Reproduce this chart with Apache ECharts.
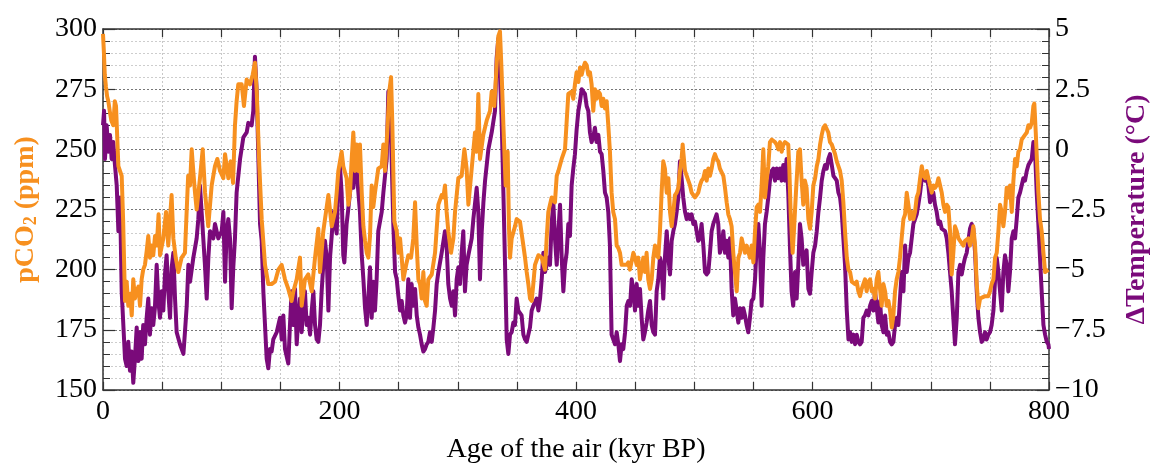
<!DOCTYPE html>
<html>
<head>
<meta charset="utf-8">
<script src="https://cdn.jsdelivr.net/npm/echarts@6/dist/echarts.min.js"></script>
<style>
html,body{margin:0;padding:0;background:#fff;}
#chart{width:1152px;height:463px;}
</style>
</head>
<body>
<div id="chart"></div>
<script>
// ---- Data ----
const co2Age = [0,0.8,1.5,2.5,3.5,4.5,6,7,8.7,10,11,13,15.8,17,18.6,20,21.4,23,24.3,25.6,27,28.5,30,31.3,32.7,34,35.5,37,38.3,39.7,41,42.5,44,45.5,47,48.2,51,53.3,55.2,56.5,58,59.5,61.5,63.7,66.5,69.3,72,73.6,75,76.5,77.8,79.2,82,84.3,86.3,89,91.9,94.7,96.7,99,101.8,103.2,106,108,108.8,110,111.6,113,114.4,117.3,119.2,121.5,124.3,126.6,128.5,130,132.2,134.2,137,139.8,142.6,145.5,148.3,151.1,153.9,156.7,159.5,161,163.8,166.6,168,170.8,173.6,176.5,179.3,182.1,183.5,186.3,190.6,193.4,196.2,197.6,199,201.8,203.2,206,207.5,208.9,210.3,211.7,213.1,214.5,215.9,217.3,218.8,220.2,221.6,223,224.4,225.8,227.2,228.6,230,232.8,235.7,237.1,238.5,240.7,242.1,243.6,244.7,246.4,248.4,249.8,251.2,252.6,254,255.4,256.8,258.2,260.5,262.4,263.9,265.3,266.7,268.1,269.5,270.9,272.3,273.7,275.1,278,280.8,283.6,286.4,287.8,289.2,290.6,292,294.3,296.3,297.7,300.5,303.3,305.6,307.5,309,310.4,311.8,314.6,316,317.4,318.8,321.6,324.5,327.3,328.7,330.9,332.9,334.3,335.7,337.1,338.6,340.5,342.2,343.3,344.2,345.6,348.4,349.8,352.6,355.5,356.9,358.3,359.7,361.1,362.5,363.9,365.3,368.2,371,373.8,375.2,376.6,379.4,382.2,383.7,385.1,387.9,390.7,393.5,396.3,397.7,399.1,400.5,402,403.4,404.8,406.2,407.6,409,410.4,411.8,413.2,414.6,416,417.4,418.9,420.3,421.7,423.1,424.5,425.9,427.3,428.7,430.1,431.5,433,434.4,435.8,437.2,438.6,440,442.8,444.2,445.6,448.5,449.9,451.3,452.7,454.1,455.5,456.9,458.3,459.7,461.1,462.6,464,465.4,466.8,468.2,469.6,471,472.4,473.8,475.2,476.7,478.1,479.5,480.9,482.3,483.7,485.1,486.5,487.9,489.3,490.2,490.7,492.2,493.6,495,496.4,497.8,499.2,500.6,502,503.4,504.8,506.2,507.7,509.1,510.5,511.9,513.3,514.7,516.1,517.5,518.9,520.3,521.7,523.2,524.6,526,527.4,528.8,530.2,531.6,533,534.4,535.9,537.3,538.7,540.1,541.5,542.9,544.3,545.7,547.1,548.5,550,551.4,552.8,554.2,555.6,557,558.4,559.8,561.2,562.6,564,565.5,566.9,568.3,569.7,571.1,572.5,573.9,575.3,576.7,578.1,579.5,580.4,581.5,583.2,584.3,586,588,589.4,590.8,592.2,593.6,595,596.5,597.9,599.3,600.7,602.2,603.6,605,606.4,607.8,609.2,610.6,612,613.4,614.8,616.3,617.7,619.1,620.5,621.9,623.3,624.7,626.1,627.5,629,630.4,631.8,633.2,634.6,636,637.4,638.8,640.2,641.6,643,644.4,645.8,647.3,648.7,650.1,651.5,652.9,654.3,655.7,657.1,658.5,660,661.4,662.8,664.2,665.6,667,668.4,669.8,671.2,672.6,674,675.4,676.9,678.3,679.7,681.1,682.5,683.9,685.3,686.7,688.1,689.5,691,692.4,693.8,695.2,696.6,698,699.4,700.8,702.2,703.6,705,706.5,707.9,709.3,710.7,712.1,713.5,714.9,716.3,717.7,719.1,720.5,722,723.4,724.8,726.2,727.6,729,730.4,731.8,733.2,734.6,736,737.5,738.9,740.3,741.7,743.1,745.9,747.3,748.7,750.1,751.5,753,754.4,755.8,757.2,758.6,760,761.4,762.8,764.2,765.6,767,768.5,769.9,771.3,772.7,774.1,775.5,776.9,778.3,779.7,781.2,782.6,784,785.4,786.8,787.6,788.8,790.2,791,792.4,793.8,795.3,796.7,798.1,799.5,800];
const co2Ppm = [298,290,281,276,272,270,265,262,260,270,268,243,239,221,187,195,185,190,181,196,188,191,193,185,196,200,202,208,214,205,210,206,214,210,223,206,213,224,210,220,231,213,205,199,205,207,239,235,250,240,232,225,238,250,232,218,235,243,246,241,238,248,238,245,242,236,260,270,277,277,268,279,277,281,286,274,243,221,202,194,194,195,200,202,196,192,187,191,196,205,185,196,198,191,205,217,199,216,231,218,224,232,241,249,243,238,227,232,246,257,241,252,241,252,232,218,212,207,205,214,235,226,232,242,243,252,241,260,274,280,260,220,216,207,213,205,196,196,203,206,205,213,228,210,196,194,188,199,187,185,196,198,207,227,231,230,235,224,216,207,213,224,238,239,250,242,227,227,242,257,249,273,246,256,262,266,274,268,285,297,299,282,260,235,249,218,205,213,218,221,220,210,205,199,194,188,187,194,202,206,205,200,213,224,230,228,239,241,246,250,273,274,271,277,282,278,284,281,284,286,285,281,282,277,266,275,271,274,273,268,271,267,270,260,249,232,224,221,210,209,207,202,202,202,203,200,207,205,202,205,196,196,205,199,207,196,192,196,205,210,206,205,216,232,245,242,232,238,224,218,224,231,232,234,241,246,252,249,241,241,237,235,232,231,230,231,232,235,237,238,241,237,242,239,242,246,248,246,245,242,242,239,234,228,223,221,218,207,199,191,205,207,213,210,207,210,210,205,210,203,216,226,227,224,235,250,230,237,243,253,254,254,253,252,250,253,249,252,253,253,252,242,224,207,216,232,249,250,237,227,237,234,221,217,224,235,238,243,246,252,256,259,260,260,257,253,252,252,248,245,243,241,237,228,216,205,200,199,195,195,194,195,191,189,192,194,196,191,195,196,191,192,188,196,199,192,185,194,191,185,187,183,176,181,191,196,199,205,213,221,223,232,227,221,224,221,224,230,232,238,243,239,238,241,241,235,232,235,234,235,238,235,232,227,224,227,226,216,198,207,218,216,213,212,212,210,212,212,213,210,213,218,210,194,184,188,188,189,189,189,191,194,196,205,207,216,227,224,218,224,234,230,235,224,237,246,243,249,250,254,254,256,257,260,259,261,268,269,257,241,232,221,216,207,199,199,200,200];

const tempAge = [0,0.9,1.7,3.1,4.5,5.9,7.3,8.7,10.1,11.6,13,14.4,15.8,17.2,18.6,20,21.4,22.8,24.2,25.6,27,28.5,29.9,31.3,32.7,34,35.5,36.9,38.3,39.7,41.1,42.5,43.9,45.4,46.8,48.2,49.6,51,52.4,53.8,55.2,56.7,58.1,59.5,60.9,62.3,65.1,68,69.3,70.8,72.2,73.6,76.4,79.2,80.6,82,83.4,84.8,86.2,87.7,89.1,90.5,93.3,94.7,97.5,100.4,101.8,103.2,104.6,106,107.4,108.8,110.2,111.6,113,115.9,118.7,121.5,122.9,125.7,127.1,128.5,130,131.4,132.8,134.2,135.6,137,138.4,139.8,141.2,142.6,144,146.9,149.7,151.1,152.5,153.9,156.7,158.1,159.5,161,162.4,163.8,165.2,166.6,168,169.4,170.8,172.2,173.6,175.1,176.5,177.9,179.3,180.7,182.1,183.5,184.9,186.3,187.7,189.2,190.6,192,193.4,194.8,196.2,197.6,199,200.4,201.8,203.2,204.1,206,207.5,208.9,210.3,211.7,213.1,214.5,215.9,217.3,218.8,220.2,221.6,223,224.4,225.8,227.2,228.6,230,231.4,232.8,235.7,237.1,238.5,239.9,241.3,242.7,244.1,245.5,247,248.4,249.8,251.2,252.6,254,255.4,256.8,258.2,259.6,261,262.4,263.9,265.3,266.7,268.1,269.5,270.9,272.3,273.7,275.1,276.5,278,279.4,280.8,282.2,283.6,286.4,289.2,290.6,292,293.5,294.9,296.3,297.7,299.1,300.5,301.9,303.3,304.7,306.1,307.5,309,311.8,313.2,316,317.4,318.8,320.3,321.7,323.1,325.9,328.7,331.5,332.9,334.3,335.7,337.1,338.6,340,341.4,342.8,344.2,345.6,347,348.4,349.8,351.2,352.6,354,355.5,356.9,358.3,359.7,361.1,362.5,363.9,365.3,366.7,368.2,369.6,371,372.4,373.8,375.2,376.6,378,379.4,380.8,382.2,383.7,385.1,386.5,387.9,389.3,390.7,392.1,393.5,394.9,396.3,397.7,399.1,400.5,402,403.4,404.8,406.2,407.6,409,410.4,411.8,413.2,414.6,416,417.4,418.9,420.3,421.7,423.1,424.5,425.9,427.3,428.7,430.1,431.5,433,434.4,435.8,437.2,438.6,440,441.5,442.9,444.3,445.7,447.1,448.5,449.9,451.3,452.7,454.1,455.5,456.9,458.3,459.7,461.1,462.6,464,465.4,466.8,468.2,469.6,471,472.4,473.8,475.2,476.7,478.1,479.5,480.9,482.3,483.7,485.1,486.5,487.9,489.3,490.7,492.2,493.6,495,496.4,497.8,499.2,500.6,502,503.4,504.8,506.2,507.7,509.1,510.5,511.9,513.3,514.7,516.1,517.5,518.9,520.3,521.7,523.2,524.6,526,527.4,528.8,530.2,531.6,533,534.4,535.9,537.3,538.7,540.1,541.5,542.9,544.3,545.7,547.1,548.5,550,551.4,552.8,554.2,555.6,557,558.4,559.8,561.2,562.6,564,565.5,566.9,568.3,569.7,571.1,572.5,573.9,575.3,576.7,578.1,579.5,580.9,582.3,583.7,585.2,586.6,588,589.4,590.8,592.2,593.6,595,596.5,597.9,599.3,600.7,602.2,603.6,605,606.4,607.8,609.2,610.6,612,613.4,614.8,616.3,617.7,619.1,620.5,621.9,623.3,624.7,626.1,627.5,629,630.4,631.8,633.2,634.6,636,637.4,638.8,640.2,641.6,643,644.4,645.8,647.3,648.7,650.1,651.5,652.9,654.3,655.7,657.1,658.5,660,661.4,662.8,664.2,665.6,667,668.4,669.8,671.2,672.6,674,675.4,676.9,678.3,679.7,681.1,682.5,683.9,685.3,686.7,688.1,689.5,691,692.4,693.8,695.2,696.6,698,699.4,700.8,702.2,703.6,705,706.5,707.9,709.3,710.7,712.1,713.5,714.9,716.3,717.7,719.1,720.5,722,723.4,724.8,726.2,727.6,729,730.4,731.8,733.2,734.6,736,737.5,738.9,740.3,741.7,743.1,744.5,745.9,747.3,748.7,750.1,751.5,753,754.4,755.8,757.2,758.6,760,761.4,762.8,764.2,765.6,767,768.5,769.9,771.3,772.7,774.1,775.5,776.9,778.3,779.7,781.2,782.6,784,785.4,786.8,788.2,789.6,791,792.4,793.8,795.3,796.7,798.1,799.5,800];
const tempDeg = [1.0,1.6,-0.4,1.0,-0.1,0.6,-0.4,0.3,-0.65,-1.5,-3.4,-2.0,-5.9,-7.3,-8.7,-9.0,-8.0,-9.2,-8.4,-9.7,-8.7,-7.4,-8.8,-7.6,-8.7,-7.3,-8.1,-7.0,-6.2,-7.7,-6.6,-7.3,-6.6,-4.8,-6.3,-7.0,-5.9,-6.7,-5.2,-4.4,-5.9,-7.0,-4.9,-4.3,-6.2,-7.6,-8.1,-8.5,-7.6,-6.5,-4.8,-5.5,-4.5,-3.7,-2.9,-1.5,-2.6,-3.7,-4.8,-6.2,-4.5,-3.4,-3.7,-3.1,-3.7,-3.4,-2.6,-5.5,-3.4,-2.9,-3.7,-6.6,-4.9,-3.7,-1.8,-0.4,0.5,0.7,1.1,1.0,1.6,3.85,2.4,-0.4,-3.1,-3.8,-5.9,-7.3,-8.7,-9.1,-8.3,-8.4,-7.9,-7.6,-7.0,-7.9,-6.9,-8.3,-8.9,-7.3,-5.9,-7.3,-5.8,-8.1,-7.0,-6.2,-7.6,-6.5,-5.9,-7.3,-7.0,-7.7,-6.7,-5.9,-7.3,-7.9,-8.0,-7.3,-5.9,-4.8,-3.8,-4.5,-6.7,-4.5,-3.6,-2.6,-2.6,-3.5,-1.5,-0.7,-1.8,-4.4,-4.7,-3.1,-2.45,-1.8,-1.1,-1.6,-0.65,-0.9,-0.9,-2.6,-4.4,-5.4,-6.6,-7.3,-6.2,-4.9,-7.0,-5.5,-6.7,-5.4,-3.4,-2.6,-1.8,-1.1,-0.4,2.4,1.8,-0.4,-3.1,-5.1,-5.4,-6.1,-6.7,-6.3,-6.9,-7.2,-6.9,-5.4,-7.0,-5.6,-6.5,-5.8,-6.9,-7.4,-7.7,-8.1,-8.4,-8.3,-8.1,-8.0,-7.6,-8.0,-7.4,-6.7,-5.6,-5.1,-4.3,-3.4,-4.0,-5.6,-6.2,-6.5,-5.9,-6.9,-5.4,-4.9,-5.6,-4.3,-3.4,-5.9,-4.8,-4.4,-3.7,-2.9,-1.6,-2.6,-5.4,-3.4,-2.2,-1.3,0.0,0.7,1.6,3.8,4.6,3.1,1.3,-1.8,-4.8,-7.9,-8.5,-7.7,-7.6,-7.2,-7.3,-6.2,-6.7,-6.7,-6.9,-7.7,-7.9,-8.0,-7.7,-7.4,-6.7,-6.5,-6.5,-6.2,-6.7,-6.2,-5.4,-4.3,-5.1,-4.8,-4.5,-4.8,-3.1,-2.2,-3.7,-4.8,-3.4,-2.3,-4.5,-5.9,-4.8,-4.3,-3.1,-3.6,-1.5,-0.8,-0.2,0.8,1.6,2.0,2.5,2.4,2.3,1.8,1.6,0.7,0.3,0.5,0.9,0.3,0.6,-0.1,-0.2,-0.9,-1.8,-2.0,-2.6,-4.0,-7.7,-7.9,-8.1,-7.6,-8.1,-8.8,-8.1,-8.3,-7.6,-6.5,-6.3,-6.5,-5.4,-5.9,-6.7,-5.6,-6.5,-5.8,-7.0,-7.9,-7.6,-7.2,-6.7,-6.3,-7.3,-7.6,-7.7,-5.9,-5.4,-4.5,-4.8,-6.2,-4.5,-3.4,-4.5,-5.2,-3.8,-3.4,-3.1,-2.6,-2.0,-0.5,-1.2,-2.0,-2.6,-2.9,-2.7,-2.9,-2.7,-3.1,-3.0,-3.4,-3.8,-3.7,-3.1,-4.0,-5.1,-5.2,-5.1,-4.3,-3.4,-3.1,-2.9,-2.7,-3.1,-4.3,-4.0,-3.4,-4.3,-3.8,-4.5,-3.7,-5.8,-6.9,-6.2,-6.7,-7.2,-6.6,-7.0,-6.6,-6.9,-7.3,-7.6,-7.0,-6.3,-6.2,-5.4,-4.0,-3.1,-4.3,-6.5,-4.5,-3.1,-2.6,-2.0,-1.3,-0.9,-0.8,-1.3,-0.8,-1.2,-0.8,-1.3,-0.65,-1.3,-0.4,-1.8,-4.0,-5.9,-6.5,-5.1,-6.2,-4.8,-3.1,-3.7,-4.8,-4.4,-4.2,-5.8,-6.0,-5.1,-4.3,-4.0,-3.4,-2.6,-2.0,-1.3,-0.9,-0.65,-0.8,-0.4,-0.2,-0.65,-1.1,-1.2,-1.3,-1.8,-2.0,-2.6,-3.7,-4.8,-6.7,-7.9,-7.6,-8.0,-7.7,-8.1,-7.7,-8.0,-8.1,-8.0,-7.0,-6.9,-6.7,-6.9,-6.5,-6.3,-6.7,-5.9,-6.6,-7.2,-6.3,-7.3,-7.6,-6.9,-7.7,-7.6,-8.0,-8.1,-8.0,-7.3,-7.0,-7.3,-6.2,-5.1,-5.9,-4.0,-5.1,-4.5,-4.3,-3.7,-3.1,-2.9,-2.7,-2.3,-1.8,-1.2,-1.1,-1.3,-1.2,-1.5,-2.2,-2.0,-1.8,-2.3,-2.6,-3.1,-3.0,-3.3,-3.35,-3.4,-3.7,-4.3,-5.1,-5.9,-7.0,-8.1,-7.0,-5.1,-4.8,-5.2,-4.8,-4.5,-4.3,-3.8,-3.3,-3.1,-3.3,-4.3,-5.9,-7.0,-7.6,-8.0,-7.9,-7.6,-7.9,-7.7,-7.6,-7.3,-6.7,-5.4,-4.5,-5.1,-5.9,-6.7,-5.1,-4.4,-4.8,-5.9,-5.1,-3.7,-3.4,-3.7,-2.9,-2.0,-1.8,-1.5,-1.2,-1.3,-0.9,-0.65,-0.65,-0.4,0.3,-0.1,-1.8,-3.1,-4.5,-5.9,-7.3,-7.7,-8.0,-8.1,-8.3];

const xTicks = [0, 200, 400, 600, 800];        // labelled x ticks
const co2Range = [150, 300, 25];                 // min, max, step
const tempRange = [-10, 5, 2.5];                 // min, max, step

// ---- Chart ----
const FONT = '"Liberation Serif","DejaVu Serif",serif';
const ORANGE = '#F7901F';
const PURPLE = '#7A0A7A';
const AXIS = '#333';

const co2Data = co2Age.map((a, i) => [a, co2Ppm[i]]);
const tempData = tempAge.map((a, i) => [a, tempDeg[i]]);

const chart = echarts.init(document.getElementById('chart'), null, {renderer: 'canvas'});
chart.setOption({
  animation: false,
  backgroundColor: '#fff',
  grid: {left: 103, right: 103, top: 29, bottom: 73, containLabel: false, outerBoundsMode: 'none'},
  xAxis: [{
    type: 'value', min: 0, max: 800, interval: 50, position: 'bottom',
    name: 'Age of the air (kyr BP)', nameLocation: 'middle', nameGap: 46,
    nameTextStyle: {fontFamily: FONT, fontSize: 28, color: '#000'},
    axisLine: {show: true, onZero: false, lineStyle: {color: AXIS, width: 1.5}},
    axisTick: {show: true, inside: true, length: 8, lineStyle: {color: AXIS, width: 1.2}},
    axisLabel: {margin: 8, fontFamily: FONT, fontSize: 28, color: '#000',
      formatter: v => xTicks.indexOf(v) >= 0 ? String(v) : ''},
    splitLine: {show: true, lineStyle: {color: '#c8c8c8', width: 1, type: [2, 2]}}
  }, {
    type: 'value', min: 0, max: 800, interval: 50, position: 'top',
    axisLine: {show: true, onZero: false, lineStyle: {color: AXIS, width: 1.5}},
    axisTick: {show: true, inside: true, length: 8, lineStyle: {color: AXIS, width: 1.2}},
    axisLabel: {show: false}, splitLine: {show: false}
  }],
  yAxis: [{
    type: 'value', min: co2Range[0], max: co2Range[1], interval: co2Range[2], position: 'left',
    name: '{a|pCO}{s|2}{a| (ppm)}', nameLocation: 'middle', nameGap: 63,
    nameTextStyle: {
      color: ORANGE, fontFamily: FONT, fontWeight: 'bold', fontSize: 28,
      rich: {
        a: {color: ORANGE, fontFamily: FONT, fontWeight: 'bold', fontSize: 28, lineHeight: 30, verticalAlign: 'bottom'},
        s: {color: ORANGE, fontFamily: FONT, fontWeight: 'bold', fontSize: 18, lineHeight: 10, verticalAlign: 'bottom'}
      }
    },
    axisLine: {show: true, onZero: false, lineStyle: {color: AXIS, width: 1.5}},
    axisTick: {show: true, inside: true, length: 12, lineStyle: {color: AXIS, width: 1.2}},
    minorTick: {show: true, splitNumber: 5, length: 7, lineStyle: {color: AXIS, width: 1}},
    axisLabel: {margin: 6, fontFamily: FONT, fontSize: 28, color: '#000'},
    splitLine: {show: true, lineStyle: {color: '#777', width: 1, type: [2, 2]}},
    minorSplitLine: {show: true, lineStyle: {color: '#cdcdcd', width: 1, type: [2, 2]}}
  }, {
    type: 'value', min: tempRange[0], max: tempRange[1], interval: tempRange[2], position: 'right',
    name: 'ΔTemperature (°C)', nameLocation: 'middle', nameGap: 74,
    nameTextStyle: {color: PURPLE, fontFamily: FONT, fontWeight: 'bold', fontSize: 28},
    axisLine: {show: true, onZero: false, lineStyle: {color: AXIS, width: 1.5}},
    axisTick: {show: true, inside: true, length: 12, lineStyle: {color: AXIS, width: 1.2}},
    minorTick: {show: true, splitNumber: 5, length: 7, lineStyle: {color: AXIS, width: 1}},
    axisLabel: {margin: 6, fontFamily: FONT, fontSize: 28, color: '#000',
      formatter: v => v < 0 ? '\u2212' + String(-v) : String(v)},
    splitLine: {show: false}
  }],
  series: [{
    name: 'Temperature', type: 'line', xAxisIndex: 0, yAxisIndex: 1,
    data: tempData, showSymbol: false, symbol: 'none',
    lineStyle: {color: PURPLE, width: 4, join: 'round'}, z: 3
  }, {
    name: 'CO2', type: 'line', xAxisIndex: 0, yAxisIndex: 0,
    data: co2Data, showSymbol: false, symbol: 'none',
    lineStyle: {color: ORANGE, width: 4, join: 'round'}, z: 4
  }]
});
</script>
</body>
</html>
